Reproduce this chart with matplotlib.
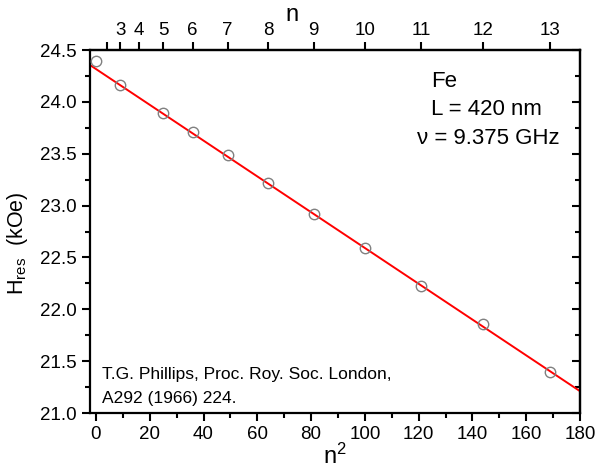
import numpy as np
import matplotlib
matplotlib.use("Agg")
import matplotlib.pyplot as plt

plt.rcParams['font.family'] = ['Liberation Sans', 'DejaVu Sans']
plt.rcParams['mathtext.fontset'] = 'custom'
plt.rcParams['mathtext.rm'] = 'Liberation Sans'
plt.rcParams['mathtext.it'] = 'Liberation Sans'
plt.rcParams['mathtext.default'] = 'regular'

# data
n_squared = [0, 9, 25, 36, 49, 64, 81, 100, 121, 144, 169]
h_res = [24.39, 24.16, 23.89, 23.71, 23.49, 23.22, 22.92, 22.59, 22.22, 21.86, 21.40]

# fitted line
fit_intercept = 24.317
fit_slope = -0.01726

# top axis: mode number n
top_n = [2, 3, 4, 5, 6, 7, 8, 9, 10, 11, 12, 13]
top_labels = ['', '3', '4', '5', '6', '7', '8', '9', '10', '11', '12', '13']

x_min, x_max = -2.2, 180
y_min, y_max = 21.0, 24.5

fig = plt.figure(figsize=(5.98, 4.75), dpi=100)
ax = fig.add_axes([0.1505, 0.1305, 0.8195, 0.7642])

x_line = np.array([x_min, x_max])
ax.plot(x_line, fit_intercept + fit_slope * x_line, color='red', lw=1.4, zorder=2)
ax.plot(n_squared, h_res, 'o', mfc='none', mec='#808080', ms=7.5, mew=1.0, zorder=3)

ax.set_xlim(x_min, x_max)
ax.set_ylim(y_min, y_max)
ax.set_xticks(np.arange(0, 181, 20))
ax.set_xticks(np.arange(10, 180, 20), minor=True)
ax.set_yticks(np.arange(21.0, 24.51, 0.5))
ax.set_yticks(np.arange(21.25, 24.5, 0.5), minor=True)
ax.yaxis.set_major_formatter(matplotlib.ticker.FormatStrFormatter('%.1f'))
ax.tick_params(which='major', direction='out', length=6, width=1.5, labelsize=13.5,
               top=False, right=False)
ax.tick_params(which='minor', direction='out', length=3.5, width=1.5,
               top=False, right=False)
for s in ax.spines.values():
    s.set_linewidth(1.6)

# right side ticks pointing inward
ax_r = ax.secondary_yaxis('right')
ax_r.set_yticks(np.arange(21.0, 24.51, 0.5))
ax_r.set_yticks(np.arange(21.25, 24.5, 0.5), minor=True)
ax_r.tick_params(which='major', direction='in', length=6, width=1.5, labelright=False)
ax_r.tick_params(which='minor', direction='in', length=3.5, width=1.5)
ax_r.spines['right'].set_linewidth(1.6)

# top axis in n
ax_t = ax.secondary_xaxis('top')
ax_t.set_xticks([n ** 2 for n in top_n])
ax_t.set_xticklabels(top_labels)
ax_t.tick_params(which='major', direction='out', length=6, width=1.5, labelsize=13.5, pad=2)
ax_t.xaxis.set_minor_locator(matplotlib.ticker.NullLocator())
ax_t.spines['top'].set_linewidth(1.6)

fig.text(292 / 598, 1 - 15 / 475, 'n', fontsize=17, ha='center', va='center')
fig.text(335 / 598, 1 - 456 / 475, 'n$^2$', fontsize=17, ha='center', va='center')
fig.text(18 / 598, 1 - 243 / 475, 'H$_{res}$  (kOe)', fontsize=15.5, rotation=90,
         ha='center', va='center')

ax.text(0.696, 0.912, 'Fe', transform=ax.transAxes, fontsize=16, va='center')
ax.text(0.696, 0.837, 'L = 420 nm', transform=ax.transAxes, fontsize=16, va='center')
ax.text(0.667, 0.755, '\u03bd = 9.375 GHz', transform=ax.transAxes, fontsize=16, va='center')

ax.text(0.0245, 0.105, 'T.G. Phillips, Proc. Roy. Soc. London,', transform=ax.transAxes,
        fontsize=12.5, va='center')
ax.text(0.0245, 0.041, 'A292 (1966) 224.', transform=ax.transAxes,
        fontsize=12.5, va='center')

fig.savefig('out.png', dpi=100)
